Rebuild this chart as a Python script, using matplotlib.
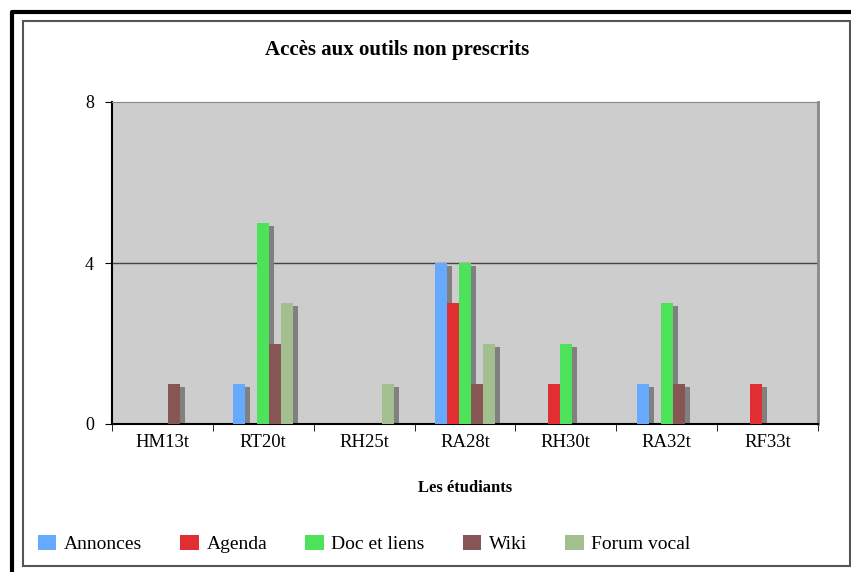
import numpy as np
import matplotlib.pyplot as plt
from matplotlib.patches import Rectangle
from matplotlib.lines import Line2D

plt.rcParams['font.family'] = ['Liberation Serif', 'DejaVu Serif']

students = ['HM13t', 'RT20t', 'RH25t', 'RA28t', 'RH30t', 'RA32t', 'RF33t']
series = ['Annonces', 'Agenda', 'Doc et liens', 'Wiki', 'Forum vocal']
annonces = [0, 1, 0, 4, 0, 1, 0]
agenda = [0, 0, 0, 3, 1, 0, 1]
doc_liens = [0, 5, 0, 4, 2, 3, 0]
wiki = [1, 2, 0, 1, 0, 1, 0]
forum_vocal = [0, 3, 1, 2, 0, 0, 0]
values = [annonces, agenda, doc_liens, wiki, forum_vocal]
colors = ['#66AAFF', '#E02E33', '#4CE35A', '#885555', '#A3BF8F']

fig = plt.figure(figsize=(8.51, 5.72), dpi=100)

# frames around the chart
fig.add_artist(Line2D([12/851, 12/851, 1], [0, 1 - 12/572, 1 - 12/572],
                      transform=fig.transFigure, color='black', lw=3))
fig.add_artist(Rectangle((22.5/851, 6/572), (849.5 - 22.5)/851, (551 - 6)/572,
                         transform=fig.transFigure, fill=False,
                         edgecolor='#555555', lw=1.5))

ax = fig.add_axes([112/851, 1 - 424/572, 706/851, 322/572])
ax.set_facecolor('#CDCDCD')

x = np.arange(len(students))
w = 0.119
dx, dy = 0.05, 0.075
for j, vals in enumerate(values):
    pos = x + (j - 2) * w
    for p, v in zip(pos, vals):
        if v > 0:
            ax.bar(p + dx, v - dy, w, color='#808080', zorder=2)
    ax.bar(pos, vals, w, color=colors[j], label=series[j], zorder=3)

ax.set_xlim(-0.5, len(students) - 0.5)
ax.set_ylim(0, 8)
ax.set_yticks([0, 4, 8])
ax.axhline(4, color='#444444', lw=1, zorder=1)

ax.set_xticks(x)
ax.set_xticklabels(students, fontsize=13.5)
ax.set_xticks(np.arange(len(students) + 1) - 0.5, minor=True)
ax.tick_params(axis='x', which='major', length=0, pad=7)
ax.tick_params(axis='x', which='minor', length=5, direction='out', color='black')
ax.tick_params(axis='y', length=5, direction='out', labelsize=13, pad=8)

for s in ['left', 'bottom']:
    ax.spines[s].set_color('black')
    ax.spines[s].set_linewidth(1.5)
ax.spines['top'].set_color('#888888')
ax.spines['right'].set_color('#888888')
ax.spines['right'].set_linewidth(2)

ax.set_xlabel('Les étudiants', fontsize=12, fontweight='bold', labelpad=21)
fig.text(397/851, 1 - 50/572, 'Accès aux outils non prescrits', ha='center',
         va='center', fontsize=15, fontweight='bold')

handles, labels = ax.get_legend_handles_labels()
fig.legend(handles, labels, loc='center left', bbox_to_anchor=(30/851, 1 - 544/572),
           ncol=5, frameon=False, fontsize=14, handlelength=0.95, handleheight=0.8,
           handletextpad=0.4, columnspacing=1.95, borderaxespad=0)

fig.savefig('out.png', dpi=100)
